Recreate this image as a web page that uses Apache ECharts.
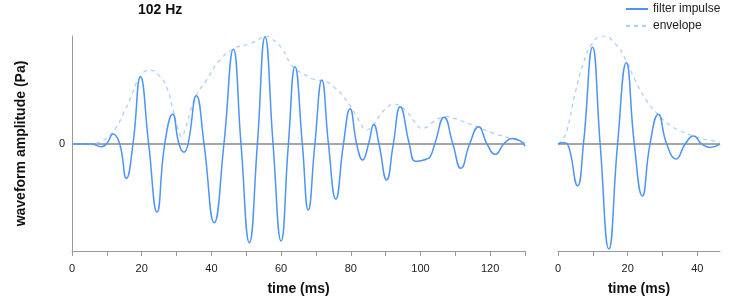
<!DOCTYPE html>
<html><head><meta charset="utf-8">
<script src="https://cdn.jsdelivr.net/npm/echarts@6/dist/echarts.min.js"></script>
<style>html,body{margin:0;padding:0;background:#fff}#c{width:738px;height:302px}</style>
</head><body><div id="c"></div>
<script>
const titleText = '102 Hz';
const seriesNames = ['filter impulse', 'envelope'];
const xAxisTitle = 'time (ms)';
const yAxisTitle = 'waveform amplitude (Pa)';

// left panel: [time ms, amplitude]
const leftImpulse = [[0,0],[5.5,0],[8.4,-0.025],[9.9,0],[11.8,0.093],[13.7,0],[15.6,-0.318],[17.5,0],[19.65,0.623],[22.0,0],[24.4,-0.63],[26.6,0],[28.9,0.275],[30.7,0],[32.1,-0.075],[33.3,0],[35.7,0.447],[37.9,0],[40.8,-0.728],[43.6,0],[46.3,0.877],[48.5,0],[50.9,-0.914],[53.2,0],[55.4,0.994],[57.7,0],[60.0,-0.898],[62.1,0],[64.0,0.716],[66.1,0],[67.8,-0.611],[69.7,0],[71.7,0.593],[73.6,0],[75.7,-0.509],[77.9,0],[79.8,0.327],[81.7,0],[83.4,-0.148],[85.1,0],[86.6,0.182],[88.1,0],[90.3,-0.333],[92.2,0],[94.2,0.346],[96.8,0],[98.5,-0.16],[100,-0.155],[101.8,-0.139],[102.8,-0.117],[104.1,0],[106.8,0.247],[109.3,0],[111.6,-0.225],[114.1,0],[116.7,0.16],[119.1,0],[121.5,-0.095],[123.9,0],[126.3,0.052],[128.6,0.03],[130,-0.02]];
const leftEnvelope = [[0,0],[5,0],[8,0.02],[10.5,0.07],[12.8,0.16],[14.7,0.28],[16.6,0.41],[19.5,0.62],[22.3,0.685],[24.8,0.64],[27.1,0.53],[29.0,0.315],[30.4,0.14],[31.4,0.068],[32.6,0.15],[34.3,0.34],[36,0.47],[38.6,0.59],[42,0.76],[46.3,0.88],[51.1,0.93],[53.4,0.965],[55.5,1.0],[57.5,0.97],[60.2,0.886],[62.6,0.75],[64.3,0.69],[66.9,0.64],[69.3,0.60],[73.1,0.575],[75.5,0.52],[77.9,0.44],[80.5,0.32],[82.7,0.2],[84.4,0.13],[86.5,0.18],[88.4,0.269],[90.5,0.34],[92.2,0.37],[94.2,0.35],[96.1,0.3],[98.2,0.21],[100.4,0.145],[102,0.16],[103.7,0.206],[105.5,0.24],[107.6,0.253],[110,0.235],[112.4,0.206],[116.2,0.16],[121.0,0.099],[125.8,0.053],[130,0.012]];

// right panel
const rightImpulse = [[0,0],[1.6,0.012],[2.75,0],[5.6,-0.386],[7.3,0],[9.9,0.895],[12.1,0],[14.6,-0.972],[17.1,0],[19.6,0.753],[21.9,0],[24.2,-0.481],[26.4,0],[28.8,0.275],[31.2,0],[33.9,-0.139],[36.5,0],[38.9,0.074],[41.3,0],[43.6,-0.031],[46.5,0]];
const rightEnvelope = [[0,0],[1.5,0.05],[2.6,0.13],[4.7,0.44],[7.3,0.75],[9.8,0.93],[12.8,1.0],[16.4,0.93],[19.6,0.77],[22,0.6],[25.5,0.40],[28.8,0.27],[31.5,0.19],[34.5,0.13],[38.9,0.074],[42.5,0.04],[46.5,0.02]];

const leftTicks = [0,10,20,30,40,50,60,70,80,90,100,110,120,130];
const leftLabels = [0,20,40,60,80,100,120];
const rightTicks = [0,10,20,30,40];
const rightLabels = [0,20,40];
const yLabels = [0];

const FONT = "'Liberation Sans', Arial, Helvetica, sans-serif";
const waveColor = '#4d94f5';
const envColor = '#a9cbff';
const axisColor = '#999';

function xAxis(idx, max, ticks, labels) {
  return {
    type: 'value', gridIndex: idx, min: 0, max: max, position: 'bottom',
    name: xAxisTitle, nameLocation: 'middle', nameGap: 31,
    nameTextStyle: {fontFamily: FONT, fontSize: 14, fontWeight: 'bold', color: '#111'},
    axisLine: {show: true, onZero: false, lineStyle: {color: axisColor, width: 1}},
    axisTick: {show: true, inside: false, length: 5, customValues: ticks, lineStyle: {color: axisColor}},
    axisLabel: {customValues: labels, margin: 12, fontFamily: FONT, fontSize: 11, color: '#222'},
    splitLine: {show: false}
  };
}
function yAxis(idx, showLine) {
  return {
    type: 'value', gridIndex: idx, min: -0.99, max: 1,
    name: showLine ? yAxisTitle : '', nameLocation: 'middle', nameGap: 44, nameRotate: 90,
    nameTextStyle: {fontFamily: FONT, fontSize: 14, fontWeight: 'bold', color: '#111'},
    axisLine: {show: showLine, onZero: false, lineStyle: {color: axisColor, width: 1}},
    axisTick: {show: false},
    axisLabel: {show: showLine, customValues: yLabels, margin: 7, fontFamily: FONT, fontSize: 11, color: '#222'},
    splitLine: {show: false}
  };
}
const zeroLine = {
  silent: true, z: 1, symbol: ['none', 'none'], label: {show: false},
  lineStyle: {color: '#a6a6a6', width: 2, type: 'solid'},
  data: [{yAxis: 0}], animation: false
};
function wave(xi, data) {
  return {name: seriesNames[0], type: 'line', xAxisIndex: xi, yAxisIndex: xi, data: data,
    smooth: 0.5, symbol: 'none', z: 4, lineStyle: {color: waveColor, width: 1.5}, itemStyle: {color: waveColor}};
}
function env(xi, data) {
  return {name: seriesNames[1], type: 'line', xAxisIndex: xi, yAxisIndex: xi, data: data,
    smooth: 0.5, symbol: 'none', z: 2, lineStyle: {color: envColor, width: 1.2, type: [4, 4]}, itemStyle: {color: envColor},
    markLine: zeroLine};
}

const chart = echarts.init(document.getElementById('c'), null, {renderer: 'canvas'});
chart.setOption({
  animation: false,
  backgroundColor: '#fff',
  title: {text: titleText, left: 138, top: 3, padding: 0,
    textStyle: {fontFamily: FONT, fontSize: 14, fontWeight: 'bold', color: '#111'}},
  legend: {
    data: seriesNames, orient: 'vertical', left: 625, top: 3, padding: 0,
    itemWidth: 22, itemHeight: 14, itemGap: 5,
    itemStyle: {opacity: 0},
    textStyle: {fontFamily: FONT, fontSize: 12, color: '#222'}
  },
  grid: [
    {left: 72, right: 213, top: 36, bottom: 51, outerBoundsMode: 'none', containLabel: false},
    {left: 558, right: 18, top: 36, bottom: 51, outerBoundsMode: 'none', containLabel: false}
  ],
  xAxis: [xAxis(0, 130, leftTicks, leftLabels), xAxis(1, 46.5, rightTicks, rightLabels)],
  yAxis: [yAxis(0, true), yAxis(1, false)],
  series: [env(0, leftEnvelope), wave(0, leftImpulse), env(1, rightEnvelope), wave(1, rightImpulse)]
});
</script></body></html>
